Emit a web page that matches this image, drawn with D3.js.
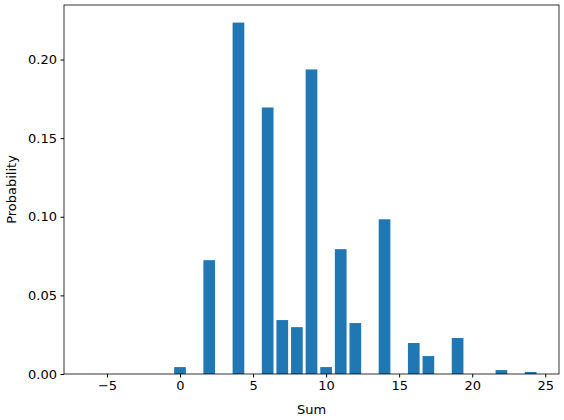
<!DOCTYPE html>
<html><head><meta charset="utf-8">
<script src="https://cdn.jsdelivr.net/npm/d3@7"></script>
<style>body{margin:0;background:#fff}text{font-family:"DejaVu Sans",sans-serif}</style>
</head><body><svg id="c" width="564" height="420"></svg>
<script>
const sums = [-6,-5,-4,-3,-2,-1,0,1,2,3,4,5,6,7,8,9,10,11,12,13,14,15,16,17,18,19,20,21,22,23,24];
const probs = [0,0,0,0,0,0,0.0044,0,0.0724,0,0.2235,0,0.1695,0.0343,0.0298,0.1937,0.0044,0.0794,0.0324,0,0.0984,0,0.0197,0.0114,0,0.0229,0,0,0.0025,0,0.0013];
const xTicks = [-5,0,5,10,15,20,25];
const yTicks = [0,0.05,0.10,0.15,0.20];
const m={l:64,t:5,r:559,b:374};
const svg=d3.select("#c");
const lo=d3.min(sums)-0.4, hi=d3.max(sums)+0.4, pad=(hi-lo)*0.05;
const x=d3.scaleLinear().domain([lo-pad,hi+pad]).range([m.l,m.r]);
const ymax=d3.max(probs)*1.05;
const y=d3.scaleLinear().domain([0,ymax]).range([m.b,m.t]);
svg.selectAll("rect.bar").data(sums).join("rect").attr("class","bar")
 .attr("x",d=>x(d-0.4)).attr("width",d=>x(d+0.4)-x(d-0.4))
 .attr("y",(d,i)=>y(probs[i])).attr("height",(d,i)=>m.b-y(probs[i])).attr("fill","#1f77b4");
const ax=svg.append("g").attr("transform",`translate(0,${m.b})`).call(d3.axisBottom(x).tickValues(xTicks).tickSize(3.5).tickPadding(3.5).tickFormat(d=>d<0?"\u2212"+(-d):d));
const ay=svg.append("g").attr("transform",`translate(${m.l},0)`).call(d3.axisLeft(y).tickValues(yTicks).tickSize(3.5).tickPadding(3.5).tickFormat(d3.format(".2f")));
[ax,ay].forEach(a=>{a.select(".domain").remove();a.selectAll("text").attr("font-size",13).attr("fill","#000").style("font-family","DejaVu Sans");a.selectAll("line").attr("stroke","#000");});
svg.append("rect").attr("x",m.l).attr("y",m.t).attr("width",m.r-m.l).attr("height",m.b-m.t).attr("fill","none").attr("stroke","#000").attr("stroke-width",0.8);
svg.append("text").attr("x",(m.l+m.r)/2).attr("y",414).attr("text-anchor","middle").attr("font-size",13).text("Sum");
svg.append("text").attr("transform",`translate(16,${(m.t+m.b)/2}) rotate(-90)`).attr("text-anchor","middle").attr("font-size",13).text("Probability");
</script></body></html>
